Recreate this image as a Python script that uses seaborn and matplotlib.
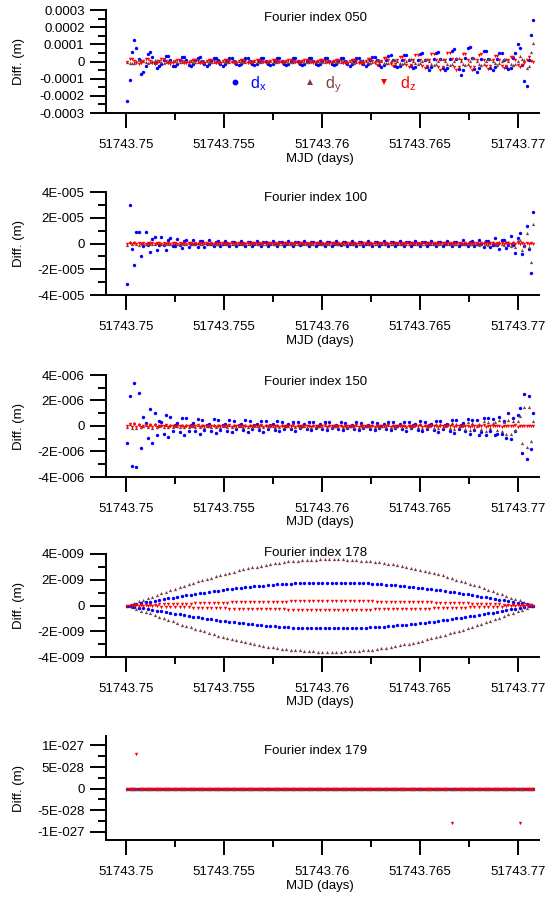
import numpy as np
import matplotlib
matplotlib.use("Agg")
import matplotlib.pyplot as plt
from matplotlib.lines import Line2D
import seaborn as sns

sns.set_style("ticks", {"axes.edgecolor": "black", "xtick.color": "black",
                        "ytick.color": "black", "text.color": "black",
                        "axes.labelcolor": "black"})
plt.rcParams["font.family"] = ["Liberation Sans", "DejaVu Sans"]
plt.rcParams["mathtext.default"] = "regular"

# ---------------------------------------------------------------- epochs
MJD_START = 51743.75
START_OFFSET_S = 6.0
STEP_S = 10.0
N_EPOCHS = 180

components = ["dx", "dy", "dz"]
comp_labels = ["d$_x$", "d$_y$", "d$_z$"]
comp_colors = {"dx": "#0000ff", "dy": "#804040", "dz": "#ff0000"}
comp_markers = {"dx": "o", "dy": "^", "dz": "v"}
comp_sizes = {"dx": 6.0, "dy": 5.5, "dz": 6.0}

titles = ["Fourier index 050", "Fourier index 100", "Fourier index 150",
          "Fourier index 178", "Fourier index 179"]

x_ticks = [51743.75, 51743.755, 51743.76, 51743.765, 51743.77]
x_tick_labels = ["51743.75", "51743.755", "51743.76", "51743.765", "51743.77"]
x_minor_ticks = [51743.7525, 51743.7575, 51743.7625, 51743.7675]

# ---------------------------------------------------------------- index 050 (unit 1e-6 m)
p1_dx = [-229, -110, 58, 126, 78, 12, -72,
         -64, -25, 43, 55, 29, -8, -39,
         -29, -15, 10, 33, 33, 8, -25,
         -25, -17, 6, 27, 27, 6, -18,
         -26, -16, 6, 23, 24, 5, -16,
         -25, -15, 5, 22, 23, 6, -15,
         -24, -15, 5, 22, 21, 5, -15,
         -23, -14, 5, 21, 20, 5, -14,
         -22, -14, 5, 20, 20, 4, -13,
         -22, -13, 4, 20, 19, 5, -14,
         -21, -13, 5, 19, 20, 4, -13,
         -21, -13, 4, 19, 19, 5, -13,
         -22, -14, 5, 20, 19, 5, -14,
         -22, -14, 5, 20, 21, 5, -14,
         -24, -15, 5, 22, 22, 5, -15,
         -28, -17, 6, 25, 26, 6, -18,
         -33, -22, 8, 33, 39, 9, -24,
         -33, -24, 9, 36, 39, 8, -26,
         -39, -30, 10, 44, 49, 10, -30,
         -48, -33, 12, 50, 55, 12, -35,
         -50, -40, 14, 62, 70, 15, -45,
         -77, -50, 18, 80, 84, 18, -45,
         -60, -40, 14, 60, 64, 14, -38,
         -52, -33, 12, 48, 50, 11, -30,
         -42, -35, 20, 50, 100, 78, -20,
         -116, -141, 10, 155, 243]
p1_dy = [0, -6, -9, -6, 2, 8, 8,
         2, -5, -8, -5, 2, 7, 7,
         1, -4, -6, -4, 1, 5, 5,
         1, -3, -5, -3, 1, 4, 5,
         1, -3, -5, -3, 1, 5, 4,
         1, -3, -5, -3, 1, 4, 4,
         1, -3, -4, -3, 1, 4, 5,
         1, -3, -5, -3, 1, 4, 4,
         1, -3, -5, -3, 1, 4, 4,
         1, -3, -4, -3, 1, 4, 4,
         1, -3, -5, -3, 1, 4, 5,
         1, -3, -5, -3, 1, 4, 4,
         1, -3, -5, -3, 1, 5, 4,
         1, -3, -5, -4, 1, 5, 5,
         1, -4, -6, -4, 1, 5, 6,
         2, -5, -8, -5, 2, 7, 7,
         2, -7, -11, -7, 2, 10, 10,
         3, -9, -14, -9, 3, 13, 12,
         4, -11, -17, -10, 4, 15, 15,
         4, -12, -19, -12, 4, 17, 17,
         4, -12, -20, -12, 4, 18, 18,
         4, -12, -20, -13, 5, 18, 18,
         4, -12, -19, -12, 4, 17, 17,
         4, -11, -18, -11, 4, 16, 16,
         4, -12, -20, -12, 4, 33, 16,
         10, -38, -29, 58, 110]
p1_dz = [0, 14, 16, 4, -10, -16, -10,
         4, 14, 15, 3, -10, -16, -10,
         3, 12, 12, 3, -8, -13, -8,
         2, 10, 10, 2, -7, -11, -7,
         2, 9, 9, 2, -6, -10, -6,
         2, 8, 8, 2, -6, -9, -6,
         2, 8, 9, 2, -5, -9, -6,
         2, 8, 8, 2, -6, -9, -5,
         2, 7, 8, 2, -5, -8, -5,
         2, 8, 7, 2, -5, -8, -5,
         2, 7, 8, 2, -5, -8, -5,
         2, 7, 7, 2, -5, -8, -5,
         2, 8, 8, 2, -5, -8, -5,
         2, 8, 8, 2, -6, -9, -6,
         3, 11, 11, 3, -7, -12, -7,
         4, 16, 16, 4, -11, -18, -11,
         5, 22, 23, 6, -15, -25, -16,
         7, 29, 29, 7, -20, -32, -20,
         9, 36, 36, 9, -25, -40, -25,
         11, 43, 44, 10, -30, -48, -30,
         11, 47, 47, 12, -32, -52, -33,
         11, 45, 45, 11, -31, -50, -31,
         10, 40, 41, 10, -28, -45, -28,
         8, 34, 34, 8, -24, -38, -24,
         7, 27, 27, 7, -19, -30, -19,
         -10, 8, 26, 5, 0]

# ---------------------------------------------------------------- index 100 (unit 1e-7 m)
p2_dx = [-312, 299, -40, -169, 86, 86, -99,
         -20, 88, -15, -65, 36, 47, -47,
         -10, 52, -10, -47, 30, 39, -21,
         -21, 36, -8, -34, 22, 31, -28,
         -6, 28, -6, -25, 17, 17, -25,
         -5, 25, -6, -22, 15, 16, -22,
         -5, 22, -5, -20, 14, 13, -20,
         -4, 20, -4, -18, 12, 13, -18,
         -4, 18, -4, -16, 11, 11, -16,
         -4, 18, -4, -17, 11, 12, -16,
         -4, 17, -4, -16, 11, 11, -15,
         -4, 18, -4, -16, 10, 11, -16,
         -4, 18, -3, -16, 11, 11, -16,
         -4, 17, -4, -15, 11, 10, -16,
         -4, 18, -4, -16, 11, 12, -16,
         -4, 18, -4, -17, 12, 11, -16,
         -4, 19, -4, -17, 12, 12, -17,
         -4, 19, -4, -17, 12, 12, -17,
         -4, 19, -4, -17, 12, 12, -17,
         -4, 20, -4, -18, 12, 13, -18,
         -5, 22, -5, -20, 14, 14, -20,
         -5, 25, -6, -22, 15, 16, -22,
         -6, 28, -6, -25, 17, 17, -25,
         -8, 39, -9, -40, 25, 26, -38,
         -10, 57, -12, -70, 45, 83, -80,
         -20, 137, -40, -229, 246]
p2_dy = [-13, 10, -5, 12, -4, -8, 6,
         5, -7, -2, 8, -2, -7, 5,
         2, -4, -1, 4, -1, -4, 2,
         2, -3, -1, 4, -1, -4, 2,
         2, -4, -1, 3, -1, -3, 2,
         2, -3, -1, 4, -1, -4, 3,
         2, -4, -1, 4, -1, -3, 2,
         3, -4, -1, 4, -1, -4, 2,
         2, -3, -1, 3, -1, -4, 2,
         2, -4, -1, 4, -1, -3, 2,
         2, -4, -1, 4, -1, -4, 2,
         2, -3, -1, 4, -1, -4, 2,
         2, -4, -1, 3, -1, -3, 2,
         2, -4, -1, 4, -1, -4, 3,
         2, -3, -1, 4, -1, -4, 2,
         3, -4, -1, 4, -1, -4, 2,
         2, -4, -1, 4, -1, -3, 2,
         2, -4, -1, 4, -1, -4, 2,
         2, -4, -1, 5, -1, -4, 3,
         3, -5, -1, 5, -1, -5, 3,
         3, -5, -1, 5, -1, -5, 3,
         4, -5, -1, 6, -1, -5, 4,
         6, -9, -2, 10, -2, -9, 6,
         9, -14, -3, 15, -3, -14, 9,
         10, -20, 15, -30, 30, 25, -52,
         -20, 83, -30, -143, 148]
p2_dz = [0, 6, -6, 5, -4, 3, -3,
         2, -3, 3, -2, 2, -2, 1,
         1, -2, 2, -2, 1, -1, 2,
         2, -1, 1, -2, 2, -1, 1,
         1, -2, 2, -2, 1, -1, 2,
         2, -1, 1, -2, 2, -1, 1,
         1, -2, 2, -2, 1, -1, 2,
         2, -1, 1, -2, 2, -1, 1,
         1, -2, 2, -2, 1, -1, 2,
         2, -1, 1, -2, 2, -1, 1,
         1, -2, 2, -2, 1, -1, 2,
         2, -1, 1, -2, 2, -1, 1,
         1, -2, 2, -2, 1, -1, 2,
         2, -1, 1, -2, 2, -1, 1,
         1, -2, 2, -2, 1, -1, 2,
         2, -1, 1, -2, 2, -1, 1,
         1, -2, 2, -2, 1, -1, 2,
         2, -1, 1, -2, 2, -1, 1,
         1, -2, 2, -2, 1, -1, 2,
         2, -1, 1, -2, 2, -1, 1,
         1, -2, 2, -2, 1, -1, 2,
         2, -1, 1, -2, 2, -1, 1,
         1, -2, 2, -2, 1, -1, 2,
         2, -1, 1, -2, 2, -1, 1,
         3, -4, 5, -4, 3, -2, 2,
         -3, 4, -5, 3, 0]

# ---------------------------------------------------------------- index 150 (unit 1e-8 m)
p3_dx = [-131, 235, -310, 335, -319, 256, -175,
         68, 20, -92, 130, -136, 104, -73,
         38, 30, -61, 88, -84, 71, -43,
         6, 25, -50, 66, -69, 59, -36,
         5, 21, -43, 57, -59, 50, -31,
         5, 19, -40, 52, -54, 46, -28,
         4, 18, -36, 48, -50, 42, -26,
         4, 16, -34, 45, -47, 39, -24,
         4, 15, -32, 42, -44, 37, -22,
         4, 14, -29, 38, -40, 34, -20,
         3, 13, -27, 35, -37, 31, -19,
         3, 12, -25, 33, -35, 29, -18,
         3, 12, -24, 31, -33, 28, -17,
         3, 11, -23, 30, -32, 27, -16,
         3, 11, -22, 29, -31, 26, -16,
         3, 11, -22, 30, -31, 26, -16,
         3, 12, -24, 31, -33, 28, -17,
         3, 13, -26, 34, -36, 30, -18,
         4, 14, -29, 38, -40, 34, -20,
         4, 16, -32, 43, -45, 38, -23,
         5, 18, -37, 49, -52, 44, -27,
         5, 21, -43, 57, -59, 50, -31,
         47, -70, -50, 66, -69, 59, -40,
         55, -70, -60, 70, -60, 40, -92,
         100, -100, 60, -40, 90, 139, -209,
         248, -261, 238, -183, 100]
p3_dy = [-10, 15, -18, 20, -19, 16, -11,
         1, 5, -10, 13, -14, 12, -7,
         1, 4, -7, 10, -10, 8, -5,
         1, 3, -6, 8, -8, 7, -4,
         1, 3, -5, 7, -8, 6, -4,
         1, 3, -6, 8, -8, 7, -4,
         1, 3, -5, 7, -8, 6, -4,
         1, 3, -6, 8, -8, 7, -4,
         1, 3, -5, 7, -8, 6, -4,
         1, 3, -6, 8, -8, 7, -4,
         1, 3, -5, 7, -8, 6, -4,
         1, 3, -6, 8, -8, 7, -4,
         1, 3, -5, 7, -8, 6, -4,
         1, 3, -6, 8, -8, 7, -4,
         1, 3, -5, 7, -8, 6, -4,
         1, 3, -6, 8, -8, 7, -4,
         1, 3, -5, 7, -8, 6, -4,
         1, 4, -7, 10, -10, 8, -5,
         1, 5, -9, 12, -13, 11, -7,
         2, 6, -12, 16, -17, 14, -9,
         2, 8, -16, 21, -22, 18, -11,
         3, 10, -22, 28, -30, 25, -15,
         3, 13, -27, 36, -38, 32, -19,
         20, 30, -35, 45, -40, 35, -60,
         50, -60, 40, -30, 40, 80, -130,
         151, -166, 151, -120, 40]
p3_dz = [0, 12, -10, 12, -10, 8, -8,
         3, 6, -6, 8, -8, 6, -4,
         0, 2, -3, 4, -4, 3, -2,
         1, 2, -3, 3, -4, 3, -2,
         0, 2, -3, 4, -4, 3, -2,
         1, 2, -3, 3, -4, 3, -2,
         0, 2, -3, 4, -4, 3, -2,
         1, 2, -3, 3, -4, 3, -2,
         0, 2, -3, 4, -4, 3, -2,
         1, 2, -3, 3, -4, 3, -2,
         0, 2, -3, 4, -4, 3, -2,
         1, 2, -3, 3, -4, 3, -2,
         0, 2, -3, 4, -4, 3, -2,
         1, 2, -3, 3, -4, 3, -2,
         0, 2, -3, 4, -4, 3, -2,
         1, 2, -3, 3, -4, 3, -2,
         0, 2, -3, 4, -4, 3, -2,
         1, 2, -3, 3, -4, 3, -2,
         0, 2, -3, 4, -4, 3, -2,
         1, 2, -3, 3, -4, 3, -2,
         0, 2, -3, 4, -4, 3, -2,
         1, 2, -3, 3, -4, 3, -2,
         0, 2, -3, 4, -4, 3, -2,
         1, 2, -3, 3, -4, 3, -2,
         0, 2, -3, 4, -4, 3, -2,
         2, -3, 3, -2, 0]

# ---------------------------------------------------------------- index 178 (unit 1e-9 m)
# residual flips sign every epoch; its magnitude follows this envelope
p4_envelope = [0.00, 0.02, 0.04, 0.05, 0.07, 0.09, 0.11, 0.12, 0.14, 0.16,
               0.17, 0.19, 0.21, 0.23, 0.24, 0.26, 0.28, 0.29, 0.31, 0.33,
               0.34, 0.36, 0.38, 0.39, 0.41, 0.42, 0.44, 0.46, 0.47, 0.49,
               0.50, 0.52, 0.53, 0.55, 0.56, 0.58, 0.59, 0.60, 0.62, 0.63,
               0.65, 0.66, 0.67, 0.69, 0.70, 0.71, 0.72, 0.73, 0.75, 0.76,
               0.77, 0.78, 0.79, 0.80, 0.81, 0.82, 0.83, 0.84, 0.85, 0.86,
               0.87, 0.88, 0.89, 0.90, 0.90, 0.91, 0.92, 0.92, 0.93, 0.94,
               0.94, 0.95, 0.95, 0.96, 0.96, 0.97, 0.97, 0.98, 0.98, 0.98,
               0.99, 0.99, 0.99, 0.99, 1.00, 1.00, 1.00, 1.00, 1.00, 1.00,
               1.00, 1.00, 1.00, 1.00, 1.00, 1.00, 0.99, 0.99, 0.99, 0.99,
               0.98, 0.98, 0.98, 0.97, 0.97, 0.96, 0.96, 0.95, 0.95, 0.94,
               0.94, 0.93, 0.92, 0.92, 0.91, 0.90, 0.90, 0.89, 0.88, 0.87,
               0.86, 0.85, 0.84, 0.83, 0.82, 0.81, 0.80, 0.79, 0.78, 0.77,
               0.76, 0.75, 0.73, 0.72, 0.71, 0.70, 0.69, 0.67, 0.66, 0.65,
               0.63, 0.62, 0.60, 0.59, 0.58, 0.56, 0.55, 0.53, 0.52, 0.50,
               0.49, 0.47, 0.46, 0.44, 0.42, 0.41, 0.39, 0.38, 0.36, 0.34,
               0.33, 0.31, 0.29, 0.28, 0.26, 0.24, 0.23, 0.21, 0.19, 0.17,
               0.16, 0.14, 0.12, 0.11, 0.09, 0.07, 0.05, 0.04, 0.02, 0.00]
p4_amplitude = {"dx": 1.78, "dy": -3.60, "dz": 0.33}

# ---------------------------------------------------------------- index 179 (unit 1e-28 m)
p5_dz_outlier_epochs = [4, 143, 173]
p5_dz_outlier_values = [8.0, -8.0, -8.0]

# ---------------------------------------------------------------- assemble
t = MJD_START + (START_OFFSET_S + STEP_S * np.arange(N_EPOCHS)) / 86400.0
alt = np.where(np.arange(N_EPOCHS) % 2 == 0, 1.0, -1.0)
env = np.asarray(p4_envelope)
p5_dz = np.zeros(N_EPOCHS)
p5_dz[p5_dz_outlier_epochs] = p5_dz_outlier_values

panels = [
    dict(data={"dx": p1_dx, "dy": p1_dy, "dz": p1_dz}, order=["dx", "dy", "dz"],
         top=10, bottom=113, ylim=(-300, 300),
         yticks=[-300, -200, -100, 0, 100, 200, 300],
         ylabels=["-0.0003", "-0.0002", "-0.0001", "0", "0.0001", "0.0002", "0.0003"],
         yminor=[-250, -150, -50, 50, 150, 250], title_y=17.5),
    dict(data={"dx": p2_dx, "dy": p2_dy, "dz": p2_dz}, order=["dx", "dy", "dz"],
         top=192, bottom=295, ylim=(-400, 400),
         yticks=[-400, -200, 0, 200, 400],
         ylabels=["-4E-005", "-2E-005", "0", "2E-005", "4E-005"],
         yminor=[-300, -100, 100, 300], title_y=198.3),
    dict(data={"dx": p3_dx, "dy": p3_dy, "dz": p3_dz}, order=["dx", "dy", "dz"],
         top=375, bottom=477, ylim=(-400, 400),
         yticks=[-400, -200, 0, 200, 400],
         ylabels=["-4E-006", "-2E-006", "0", "2E-006", "4E-006"],
         yminor=[-300, -100, 100, 300], title_y=381.7),
    dict(data={c: p4_amplitude[c] * env * alt for c in components},
         order=["dy", "dx", "dz"],
         top=554, bottom=657, ylim=(-4, 4),
         yticks=[-4, -2, 0, 2, 4],
         ylabels=["-4E-009", "-2E-009", "0", "2E-009", "4E-009"],
         yminor=[-3, -1, 1, 3], title_y=553.3),
    dict(data={"dx": np.zeros(N_EPOCHS), "dy": np.zeros(N_EPOCHS), "dz": p5_dz},
         order=["dx", "dy", "dz"],
         top=736, bottom=840, ylim=(-11.9, 12.2),
         yticks=[-10, -5, 0, 5, 10],
         ylabels=["-1E-027", "-5E-028", "0", "5E-028", "1E-027"],
         yminor=[-7.5, -2.5, 2.5, 7.5], title_y=751.2),
]

W, H = 555, 897
AX_LEFT, AX_RIGHT = 106, 539
FS = 9.5

fig = plt.figure(figsize=(W / 100, H / 100), dpi=100)

for k, p in enumerate(panels):
    h_px = p["bottom"] - p["top"]
    ax = fig.add_axes([AX_LEFT / W, 1 - p["bottom"] / H,
                       (AX_RIGHT - AX_LEFT) / W, h_px / H])
    for comp in p["order"]:
        sns.scatterplot(x=t, y=np.asarray(p["data"][comp], dtype=float), ax=ax,
                        color=comp_colors[comp], marker=comp_markers[comp],
                        s=comp_sizes[comp], linewidth=0, legend=False)

    ax.set_xlim(51743.74898, 51743.77107)
    ax.set_ylim(*p["ylim"])
    ax.set_xticks(x_ticks, x_tick_labels)
    ax.set_xticks(x_minor_ticks, minor=True)
    ax.set_yticks(p["yticks"], p["ylabels"])
    ax.set_yticks(p["yminor"], minor=True)
    sns.despine(ax=ax)
    for side in ("left", "bottom"):
        ax.spines[side].set_linewidth(1.4)
    ax.tick_params(axis="x", which="major", length=11, width=1.4, pad=8, labelsize=FS)
    ax.tick_params(axis="x", which="minor", length=5, width=1.4)
    ax.tick_params(axis="y", which="major", length=11.8, width=1.4, pad=3.6, labelsize=FS)
    ax.tick_params(axis="y", which="minor", length=6, width=1.4)

    ax.set_xlabel("MJD (days)", fontsize=FS)
    ax.xaxis.set_label_coords(0.493, -39.5 / h_px)
    ax.set_ylabel("Diff. (m)", fontsize=FS)
    ax.yaxis.set_label_coords(-0.186, 0.5)

    ax.text((316 - AX_LEFT) / (AX_RIGHT - AX_LEFT),
            (p["bottom"] - p["title_y"]) / h_px, titles[k],
            transform=ax.transAxes, ha="center", va="center", fontsize=FS)

    if k == 0:
        handles = [Line2D([], [], ls="none", marker=comp_markers[c],
                          color=comp_colors[c], markersize=4.2, markeredgewidth=0)
                   for c in components]
        ax.legend(handles, comp_labels, ncol=3, loc="center",
                  bbox_to_anchor=(0.497, 0.28), frameon=False, fontsize=11.5,
                  handlelength=1.0, handletextpad=0.45, columnspacing=2.2,
                  borderpad=0, borderaxespad=0,
                  labelcolor=[comp_colors[c] for c in components])

fig.savefig("out.png", dpi=100)
